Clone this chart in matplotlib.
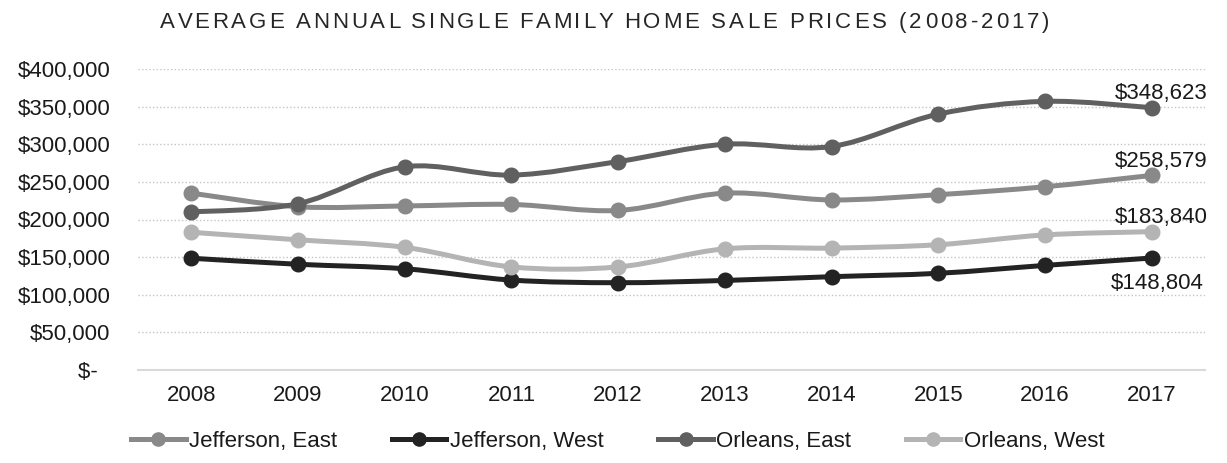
import numpy as np
import matplotlib
matplotlib.use("Agg")
import matplotlib.pyplot as plt
from matplotlib.path import Path
from matplotlib.patches import PathPatch
from matplotlib.lines import Line2D
from matplotlib.ticker import FuncFormatter

plt.rcParams["font.family"] = ["Liberation Sans", "DejaVu Sans"]

TITLE = "AVERAGE ANNUAL SINGLE FAMILY HOME SALE PRICES (2008-2017)"

years = ["2008", "2009", "2010", "2011", "2012", "2013", "2014", "2015", "2016", "2017"]
series_names = ["Jefferson, East", "Jefferson, West", "Orleans, East", "Orleans, West"]

jefferson_east = [235000, 217000, 218000, 220000, 212000, 235000, 226000, 233000, 243500, 258579]
jefferson_west = [148500, 140500, 134500, 119500, 116000, 119000, 124000, 128500, 139000, 148804]
orleans_east = [210000, 221000, 270000, 259000, 277000, 300000, 297000, 340000, 357000, 348623]
orleans_west = [183000, 173000, 163000, 137000, 137000, 161000, 162000, 166500, 179500, 183840]

y_ticks = [0, 50000, 100000, 150000, 200000, 250000, 300000, 350000, 400000]

colors = ["#898989", "#232323", "#606060", "#b4b4b4"]
# final-year label placement: above or below the last marker
label_side = ["above", "below", "above", "above"]

W, H, DPI = 12.27, 4.63, 100
TEXT_COLOR = "#1a1a1a"
FS = 16


def smooth_path(xs, ys):
    # cubic bezier through every point, like a spreadsheet "smoothed line"
    pts = np.column_stack([xs, ys]).astype(float)
    padded = np.vstack([pts[0], pts, pts[-1]])
    verts = [pts[0]]
    codes = [Path.MOVETO]
    for i in range(len(pts) - 1):
        p0, p1, p2, p3 = padded[i], padded[i + 1], padded[i + 2], padded[i + 3]
        verts += [p1 + (p2 - p0) / 6.0, p2 - (p3 - p1) / 6.0, p2]
        codes += [Path.CURVE4] * 3
    return Path(verts, codes)


def money(v, _pos=None):
    if v == 0:
        return "$-  "
    return "${:,.0f}".format(v)


def tracked_text(fig, text, x_center_px, y_frac, size, tracking_px, color):
    renderer = fig.canvas.get_renderer()
    probe = fig.text(0, 0, "", fontsize=size)
    prop = probe.get_fontproperties()
    probe.remove()

    def width(s):
        w, _, _ = renderer.get_text_width_height_descent(s + "|", prop, ismath=False)
        return w

    base = width("")
    total = width(text) - base + (len(text) - 1) * tracking_px
    x0 = x_center_px - total / 2.0
    fig_w = fig.bbox.width
    for i, ch in enumerate(text):
        if ch == " ":
            continue
        x = x0 + width(text[:i]) - base + i * tracking_px
        fig.text(x / fig_w, y_frac, ch, fontsize=size, color=color,
                 ha="left", va="baseline")


fig = plt.figure(figsize=(W, H), dpi=DPI)
ax = fig.add_axes([138 / 1227, 1 - 370 / 463, (1205 - 138) / 1227, (370 - 69) / 463])

x = np.arange(len(years))
all_series = [jefferson_east, jefferson_west, orleans_east, orleans_west]

for vals, col in zip(all_series, colors):
    patch = PathPatch(smooth_path(x, vals), facecolor="none", edgecolor=col,
                      lw=3.6, capstyle="round", joinstyle="round", zorder=3)
    ax.add_patch(patch)
    ax.plot(x, vals, linestyle="none", marker="o", markersize=10.5,
            color=col, zorder=4)

for vals, side in zip(all_series, label_side):
    if side == "above":
        ax.annotate(money(vals[-1]), (x[-1], vals[-1]), xytext=(7, 6),
                    textcoords="offset points", ha="center", va="baseline",
                    fontsize=FS, color=TEXT_COLOR, zorder=5)
    else:
        ax.annotate(money(vals[-1]), (x[-1], vals[-1]), xytext=(4, -11),
                    textcoords="offset points", ha="center", va="top",
                    fontsize=FS, color=TEXT_COLOR, zorder=5)

ax.set_xlim(-0.5, len(years) - 0.5)
ax.set_ylim(0, 400000)
ax.set_xticks(x)
ax.set_xticklabels(years)
ax.set_yticks(y_ticks)
ax.yaxis.set_major_formatter(FuncFormatter(money))
ax.tick_params(axis="both", length=0, labelsize=FS, labelcolor=TEXT_COLOR)
ax.tick_params(axis="x", pad=11)
ax.tick_params(axis="y", pad=20)

ax.yaxis.grid(True, linestyle=(0, (1, 1.6)), color="#c4c4c4", lw=1.0, zorder=0)
ax.set_axisbelow(True)
for side in ["left", "right", "top"]:
    ax.spines[side].set_visible(False)
ax.spines["bottom"].set_color("#d9d9d9")
ax.spines["bottom"].set_linewidth(1.5)
ax.spines["bottom"].set_zorder(2)

handles = [Line2D([], [], color=c, lw=3.6, marker="o", markersize=9.5)
           for c in colors]
fig.legend(handles, series_names, loc="center", bbox_to_anchor=(0.5035, 1 - 441 / 463),
           ncol=4, frameon=False, fontsize=FS, handlelength=2.45,
           handletextpad=0.15, columnspacing=2.47, labelcolor=TEXT_COLOR)

tracked_text(fig, TITLE, 605, 1 - 28 / 463, FS, 2.95, "#262626")

fig.savefig("out.png", dpi=DPI)
